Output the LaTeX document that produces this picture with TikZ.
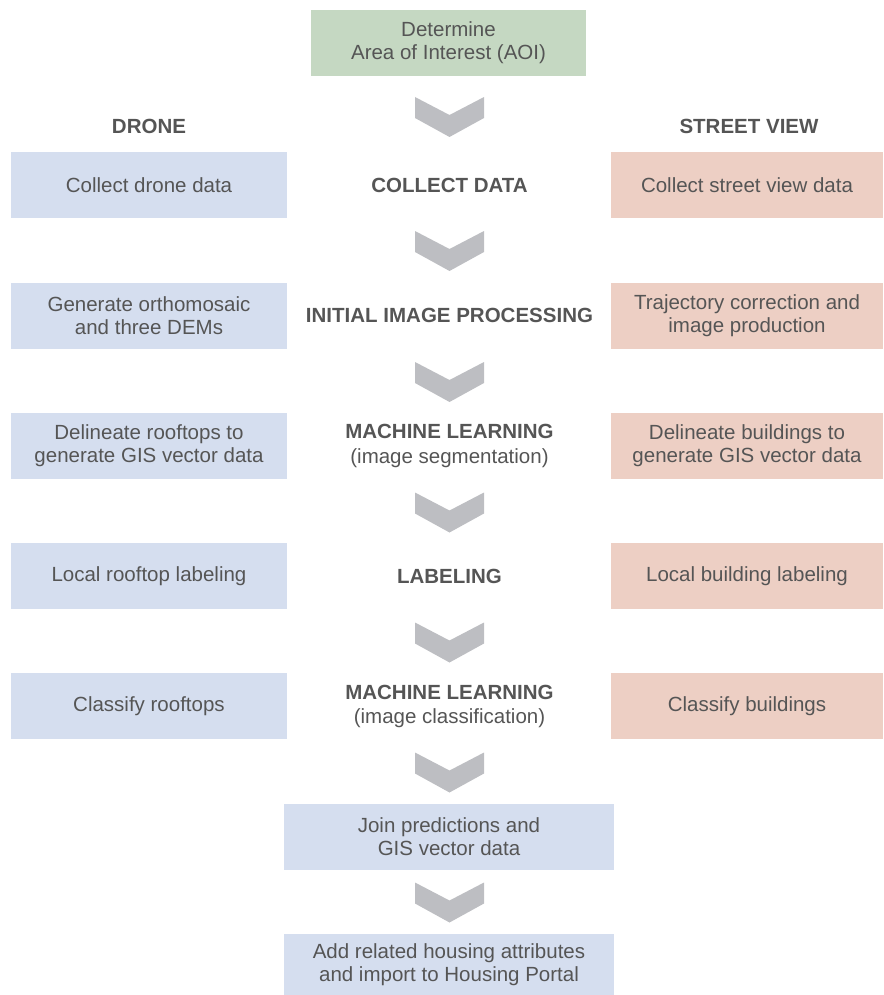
\documentclass[tikz,border=0pt]{standalone}
\usepackage{fontspec}
\setmainfont{Liberation Sans}
\usetikzlibrary{calc}
\definecolor{txt}{HTML}{555555}
\definecolor{blu}{HTML}{D5DEEF}
\definecolor{sal}{HTML}{EDCFC4}
\definecolor{grn}{HTML}{C5D8C2}
\definecolor{chv}{HTML}{BDBEC2}
\begin{document}
\begin{tikzpicture}[x=1pt,y=-1pt,
  boxbase/.style={draw=none,inner sep=0pt,align=center,text=txt,font=\fontsize{20.5}{23}\selectfont},
  dronebox/.style={boxbase,fill=blu,minimum width=276pt,minimum height=66pt},
  streetbox/.style={boxbase,fill=sal,minimum width=272pt,minimum height=66pt},
  midbox/.style={boxbase,fill=blu,minimum width=330pt,minimum height=66pt},
  aoibox/.style={boxbase,fill=grn,minimum width=275pt,minimum height=66pt},
  headlbl/.style={text=txt,inner sep=0pt,align=center,font=\bfseries\fontsize{20.5}{27}\selectfont},
  sublbl/.style={text=txt,inner sep=0pt,align=center,font=\fontsize{20.5}{23}\selectfont},
  chev/.pic={\fill[chv] (-34.5,-20) -- (0,-2) -- (34.5,-20) -- (34.5,1) -- (0,20) -- (-34.5,1) -- cycle;}
]
\useasboundingbox (0,0) rectangle (883,995);
% top
\node[aoibox] (aoi) at (448.5,43) {Determine\\Area of Interest (AOI)};
\node[headlbl] (hdrone) at (149,126) {DRONE};
\node[headlbl] (hstreet) at (749,126) {STREET VIEW};
% row 1
\node[dronebox] (d1) at (149,185) {Collect drone data};
\node[headlbl] (m1) at (449.5,185) {COLLECT DATA};
\node[streetbox] (s1) at (747,185) {Collect street view data};
% row 2
\node[dronebox] (d2) at (149,316) {Generate orthomosaic\\and three DEMs};
\node[headlbl] (m2) at (449.5,315) {INITIAL IMAGE PROCESSING};
\node[streetbox] (s2) at (747,316) {Trajectory correction and\\image production};
% row 3
\node[dronebox] (d3) at (149,446) {Delineate rooftops to\\generate GIS vector data};
\node[headlbl] (m3) at (449.5,431) {MACHINE LEARNING};
\node[sublbl] (m3b) at (449.5,458) {(image segmentation)};
\node[streetbox] (s3) at (747,446) {Delineate buildings to\\generate GIS vector data};
% row 4
\node[dronebox] (d4) at (149,576) {Local rooftop labeling};
\node[headlbl] (m4) at (449.5,576) {LABELING};
\node[streetbox] (s4) at (747,576) {Local building labeling};
% row 5
\node[dronebox] (d5) at (149,706) {Classify rooftops};
\node[headlbl] (m5) at (449.5,692) {MACHINE LEARNING};
\node[sublbl] (m5b) at (449.5,718) {(image classification)};
\node[streetbox] (s5) at (747,706) {Classify buildings};
% bottom
\node[midbox] (j) at (449,837) {Join predictions and\\GIS vector data};
\node[midbox,minimum height=62pt] (h) at (449,965) {Add related housing attributes\\and import to Housing Portal};
% chevrons
\pic at (449.5,117) {chev};
\pic at (449.5,251) {chev};
\pic at (449.5,382) {chev};
\pic at (449.5,512.5) {chev};
\pic at (449.5,642.5) {chev};
\pic at (449.5,772.5) {chev};
\pic at (449.5,902.5) {chev};
\end{tikzpicture}
\end{document}
